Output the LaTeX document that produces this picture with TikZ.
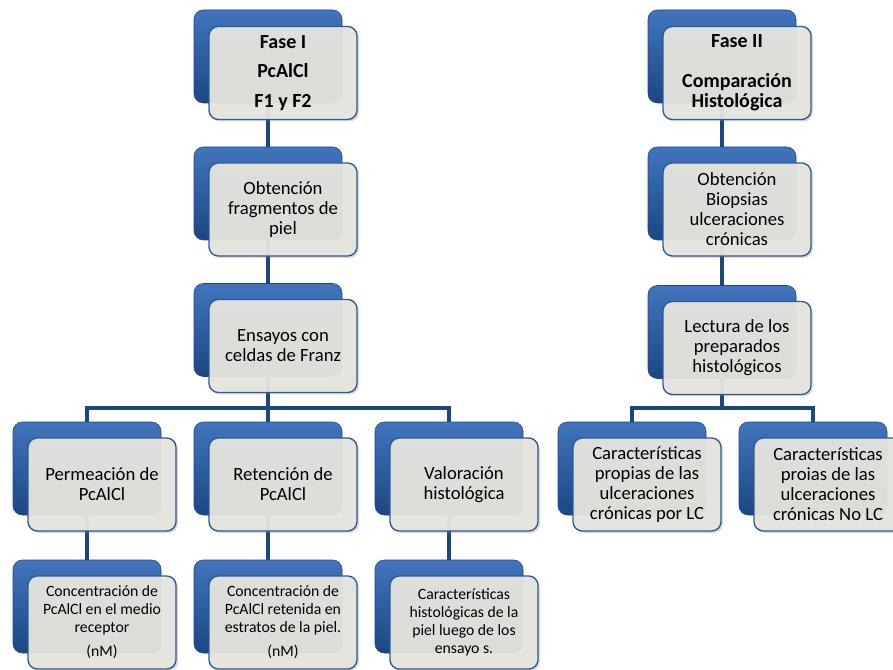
\documentclass[tikz,border=0pt]{standalone}
\usepackage{fontspec}
\setmainfont{Carlito}
\usetikzlibrary{shadows,backgrounds}
\definecolor{azulclaro}{HTML}{4275BE}
\definecolor{azuloscuro}{HTML}{1B4682}
\definecolor{borde}{HTML}{2E5A95}
\definecolor{fondo}{HTML}{E7E6DF}
\tikzset{
  fondoazul/.style={rounded corners=7pt, minimum width=111pt, minimum height=69.75pt,
    inner sep=0pt, top color=azulclaro, bottom color=azuloscuro, draw=azuloscuro},
  tarjeta/.style={rounded corners=7pt, minimum width=111pt, minimum height=69.75pt,
    inner sep=0pt, fill=fondo, fill opacity=0.94, text opacity=1, draw=borde,
    line width=1pt, align=center, font=\fontsize{14}{15}\selectfont,
    drop shadow={opacity=0.3, shadow xshift=1.5pt, shadow yshift=-1.5pt}},
  tarjetachica/.style={tarjeta, font=\fontsize{11.8}{13.5}\selectfont},
  titulo/.style={tarjeta, font=\fontsize{15}{15}\selectfont\bfseries},
  conector/.style={azuloscuro, line width=3.5pt}
}
\begin{document}
\begin{tikzpicture}[x=0.75pt,y=-0.75pt]
    \useasboundingbox (0,0) rectangle (893,670);
    % Fase I: columna izquierda
    \node[fondoazul] (fase1b) at (268,56.5) {};
    \node[titulo] (fase1) at (283,73) {Fase I\\[7pt]PcAlCl\\[7pt]F1 y F2};
    \node[fondoazul] (obtb) at (268,193.5) {};
    \node[tarjeta] (obt) at (283,209.5) {Obtención\\fragmentos de\\piel};
    \node[fondoazul] (ensb) at (268,330) {};
    \node[tarjeta] (ens) at (283,346) {Ensayos con\\celdas de Franz};
    \node[fondoazul] (permb) at (87,468.5) {};
    \node[tarjeta] (perm) at (102,484.5) {Permeación de\\PcAlCl};
    \node[fondoazul] (retb) at (268,468.5) {};
    \node[tarjeta] (ret) at (283,484.5) {Retención de\\PcAlCl};
    \node[fondoazul] (valb) at (449,468.5) {};
    \node[tarjeta] (val) at (464,484.5) {Valoración\\histológica};
    \node[fondoazul] (conc1b) at (87,606.5) {};
    \node[tarjetachica] (conc1) at (102,622.5) {Concentración de\\PcAlCl en el medio\\receptor\\[4.5pt](nM)};
    \node[fondoazul] (conc2b) at (268,606.5) {};
    \node[tarjetachica] (conc2) at (283,622.5) {Concentración de\\PcAlCl retenida en\\estratos de la piel.\\[4.5pt](nM)};
    \node[fondoazul] (carhistb) at (449,606.5) {};
    \node[tarjetachica] (carhist) at (464,622.5) {Características\\histológicas de la\\piel luego de los\\ensayo s.};
    % Fase II: columna derecha
    \node[fondoazul] (fase2b) at (722,56.5) {};
    \node[titulo] (fase2) at (737,73) {Fase II\\[15pt]Comparación\\Histológica};
    \node[fondoazul] (biopb) at (722,193.5) {};
    \node[tarjeta] (biop) at (737,209.5) {Obtención\\Biopsias\\ulceraciones\\crónicas};
    \node[fondoazul] (lectb) at (722,332) {};
    \node[tarjeta] (lect) at (737,348) {Lectura de los\\preparados\\histológicos};
    \node[fondoazul] (lcb) at (632,468.5) {};
    \node[tarjeta] (lc) at (647,484.5) {Características\\propias de las\\ulceraciones\\crónicas por LC};
    \node[fondoazul] (nolcb) at (813,468.5) {};
    \node[tarjeta] (nolc) at (828,484.5) {Características\\proias de las\\ulceraciones\\crónicas No LC};
    % conectores por detrás de las cajas
    \coordinate (ramal1) at (268,408);
    \coordinate (ramal2) at (722,408);
    \begin{scope}[on background layer]
        \draw[conector] (fase1b.center) -- (obtb.center) -- (ensb.center) -- (retb.center) -- (conc2b.center);
        \draw[conector] (ramal1) -| (permb.center) -- (conc1b.center);
        \draw[conector] (ramal1) -| (valb.center) -- (carhistb.center);
        \draw[conector] (fase2b.center) -- (biopb.center) -- (lectb.center) -- (ramal2);
        \draw[conector] (ramal2) -| (lcb.center);
        \draw[conector] (ramal2) -| (nolcb.center);
    \end{scope}
\end{tikzpicture}
\end{document}
